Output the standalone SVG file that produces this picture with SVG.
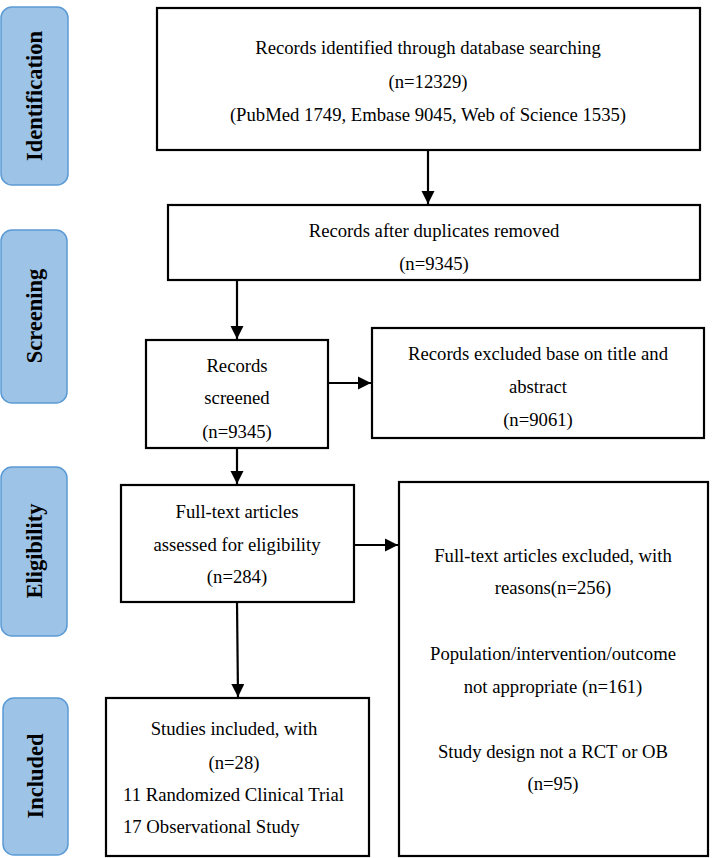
<svg xmlns="http://www.w3.org/2000/svg" width="712" height="858" viewBox="0 0 712 858">
<style>
.stage rect{fill:#9DC3E6;stroke:#5B9BD5;stroke-width:1.5}
.stage text{font-family:"Liberation Serif","Times New Roman",serif;font-weight:bold;font-size:22.5px;fill:#000;text-anchor:middle}
.box rect{fill:#fff;stroke:#000;stroke-width:2.2}
.box text{font-family:"Liberation Serif","Times New Roman",serif;font-size:18.7px;fill:#000;text-anchor:middle}
.box text.l{text-anchor:start}
.conn line{stroke:#000;stroke-width:2.2;marker-end:url(#ah)}
</style>
<defs>
<marker id="ah" markerWidth="6" markerHeight="6" refX="6" refY="3" orient="auto" markerUnits="strokeWidth">
<path d="M0,0 L6,3 L0,6 Z" fill="#000"/>
</marker>
</defs>
<rect width="712" height="858" fill="#fff"/>
<g id="stage-identification" class="stage"><rect x="1" y="7" width="67" height="178" rx="11"/><text transform="translate(42,96) rotate(-90)">Identification</text></g>
<g id="stage-screening" class="stage"><rect x="1" y="230" width="66" height="173" rx="11"/><text transform="translate(42,316) rotate(-90)">Screening</text></g>
<g id="stage-eligibility" class="stage"><rect x="1" y="467" width="66" height="169" rx="11"/><text transform="translate(42,551) rotate(-90)">Eligibility</text></g>
<g id="stage-included" class="stage"><rect x="3" y="698" width="65" height="157" rx="11"/><text transform="translate(43,776) rotate(-90)">Included</text></g>

<g id="identified" class="box"><rect x="157" y="8" width="543" height="142"/>
<text x="428" y="54">Records identified through database searching</text>
<text x="428" y="88">(n=12329)</text>
<text x="428" y="121">(PubMed 1749, Embase 9045, Web of Science 1535)</text></g>

<g id="dedup" class="box"><rect x="168" y="205" width="532" height="75"/>
<text x="434" y="237">Records after duplicates removed</text>
<text x="434" y="270">(n=9345)</text></g>

<g id="screened" class="box"><rect x="146" y="340" width="182" height="108"/>
<text x="237" y="372">Records</text>
<text x="237" y="404">screened</text>
<text x="237" y="438">(n=9345)</text></g>

<g id="excluded-title" class="box"><rect x="372" y="328" width="332" height="110"/>
<text x="538" y="360">Records excluded base on title and</text>
<text x="538" y="393">abstract</text>
<text x="538" y="426">(n=9061)</text></g>

<g id="fulltext" class="box"><rect x="121" y="485" width="233" height="117"/>
<text x="237" y="518">Full-text articles</text>
<text x="237" y="551">assessed for eligibility</text>
<text x="237" y="583">(n=284)</text></g>

<g id="fulltext-excluded" class="box"><rect x="399" y="482" width="309" height="374"/>
<text x="553" y="562">Full-text articles excluded, with</text>
<text x="553" y="594">reasons(n=256)</text>
<text x="553" y="660">Population/intervention/outcome</text>
<text x="553" y="693">not appropriate (n=161)</text>
<text x="553" y="758">Study design not a RCT or OB</text>
<text x="553" y="790">(n=95)</text></g>

<g id="included" class="box"><rect x="106" y="698" width="263" height="158"/>
<text x="234" y="735">Studies included, with</text>
<text x="234" y="769">(n=28)</text>
<text class="l" x="123" y="801">11 Randomized Clinical Trial</text>
<text class="l" x="123" y="833">17 Observational Study</text></g>

<g id="connectors" class="conn">
<line x1="428" y1="150" x2="428" y2="204"/>
<line x1="237" y1="280" x2="237" y2="339"/>
<line x1="328" y1="383" x2="371" y2="383"/>
<line x1="237" y1="448" x2="237" y2="484"/>
<line x1="354" y1="545" x2="398" y2="545"/>
<line x1="237" y1="602" x2="238" y2="697"/>
</g>
</svg>
